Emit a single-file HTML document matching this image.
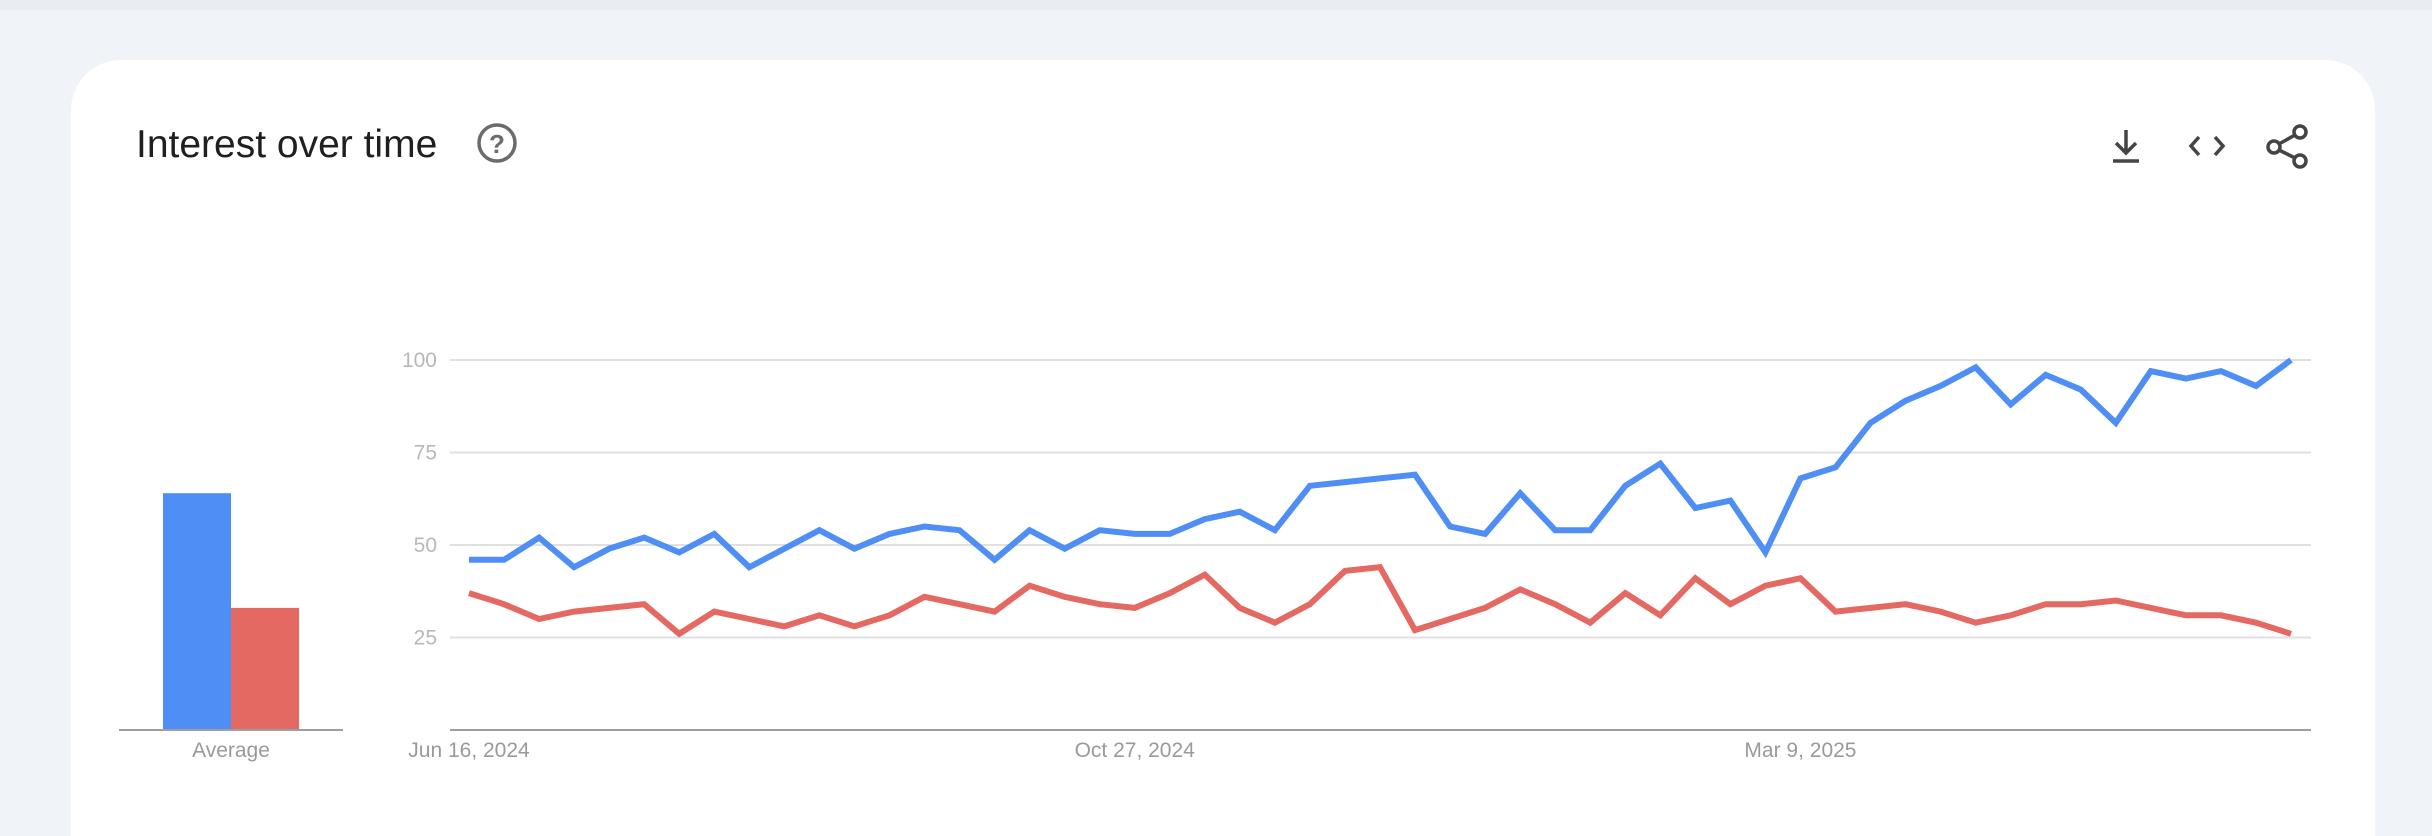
<!DOCTYPE html>
<html><head><meta charset="utf-8"><style>
html,body{margin:0;padding:0;width:2432px;height:836px;overflow:hidden;background:#f0f4f9;font-family:"Liberation Sans",sans-serif}
svg{display:block}
</style></head><body>
<svg id="chart" width="2432" height="836" viewBox="0 0 2432 836" xmlns="http://www.w3.org/2000/svg">
<rect x="0" y="0" width="2432" height="10" fill="#e9edf2"/>
<rect x="71" y="60" width="2304" height="776" rx="50" fill="#ffffff"/>
<rect x="71" y="200" width="2304" height="636" fill="#ffffff"/>
<text x="136" y="157" font-size="39" fill="#1f1f1f">Interest over time</text>
<g>
<circle cx="497" cy="143" r="18" fill="none" stroke="#6b6b6b" stroke-width="3.5"/>
<text x="497" y="153" font-size="26" font-weight="bold" fill="#6b6b6b" text-anchor="middle">?</text>
</g>
<g stroke="#444" stroke-width="3.5" fill="none">
<path d="M2126 130 V153 M2116 143 L2126 153 L2136 143 M2113 161 H2139"/>
</g>
<g stroke="#444" stroke-width="3.5" fill="none">
<path d="M2199 137 L2191 146 L2199 155 M2215 137 L2223 146 L2215 155"/>
</g>
<g stroke="#444" stroke-width="3.5" fill="none">
<circle cx="2300" cy="132" r="6"/><circle cx="2274" cy="147" r="6"/><circle cx="2300" cy="161" r="6"/>
<path d="M2279 144 L2295 135 M2279 150 L2295 158"/>
</g>
<g id="grid"></g>
<g id="bars"></g>
<g id="lines"></g>
</svg>
<script>
const yTicks = [25, 50, 75, 100];
const xLabels = ["Jun 16, 2024", "Oct 27, 2024", "Mar 9, 2025"];
const xLabelIdx = [0, 19, 38];
const blueValues = [46,46,52,44,49,52,48,53,44,49,54,49,53,55,54,46,54,49,54,53,53,57,59,54,66,67,68,69,55,53,64,54,54,66,72,60,62,48,68,71,83,89,93,98,88,96,92,83,97,95,97,93,100];
const redValues = [37,34,30,32,33,34,26,32,30,28,31,28,31,36,34,32,39,36,34,33,37,42,33,29,34,43,44,27,30,33,38,34,29,37,31,41,34,39,41,32,33,34,32,29,31,34,34,35,33,31,31,29,26];
const averageValues = [64, 33];
const seriesColors = ["#4e8ef5", "#e46962"];

const NS = "http://www.w3.org/2000/svg";
const y0 = 730, y100 = 360;
function yScale(v){ return y0 - (y0 - y100) * v / 100; }
function xScale(i){ return 469 + i * (2291 - 469) / (blueValues.length - 1); }
function mk(tag, attrs, parent){ const e = document.createElementNS(NS, tag); for (const k in attrs) e.setAttribute(k, attrs[k]); parent.appendChild(e); return e; }

const grid = document.getElementById('grid');
yTicks.forEach(t => {
  const l = mk('line', {x1:450, x2:2311, y1:yScale(t), y2:yScale(t), stroke:'#e0e0e0', 'stroke-width':2}, grid);
  
  
  const tx = mk('text', {x:437, y:yScale(t)+7, 'font-size':21, fill:'#b8b8b8', 'text-anchor':'end'}, grid);
  tx.textContent = t;
  
  
});
const base = mk('line', {x1:450, x2:2311, y1:y0, y2:y0, stroke:'#9e9e9e', 'stroke-width':2}, grid);


xLabels.forEach((s, k) => {
  const tx = mk('text', {x:xScale(xLabelIdx[k]), y:757, 'font-size':21, fill:'#9a9a9a', 'text-anchor':'middle'}, grid);
  tx.textContent = s;
  
  
});

const bars = document.getElementById('bars');
averageValues.forEach((v, k) => {
  const r = mk('rect', {x:163 + k*68, y:yScale(v), width:68, height:y0 - yScale(v), fill:seriesColors[k]}, bars);
  
  
});
const bb = mk('line', {x1:119, x2:343, y1:y0, y2:y0, stroke:'#9e9e9e', 'stroke-width':2}, bars);


const at = mk('text', {x:231, y:757, 'font-size':21, fill:'#9a9a9a', 'text-anchor':'middle'}, bars);
at.textContent = 'Average';



const lines = document.getElementById('lines');
[redValues, blueValues].forEach((vals, k) => {
  const pts = vals.map((v, i) => xScale(i).toFixed(1) + ',' + yScale(v).toFixed(1)).join(' ');
  const p = mk('polyline', {points:pts, fill:'none', stroke: k === 0 ? seriesColors[1] : seriesColors[0], 'stroke-width':6, 'stroke-linejoin':'miter', 'stroke-miterlimit':3}, lines);
  
  
});
</script>
</body></html>
